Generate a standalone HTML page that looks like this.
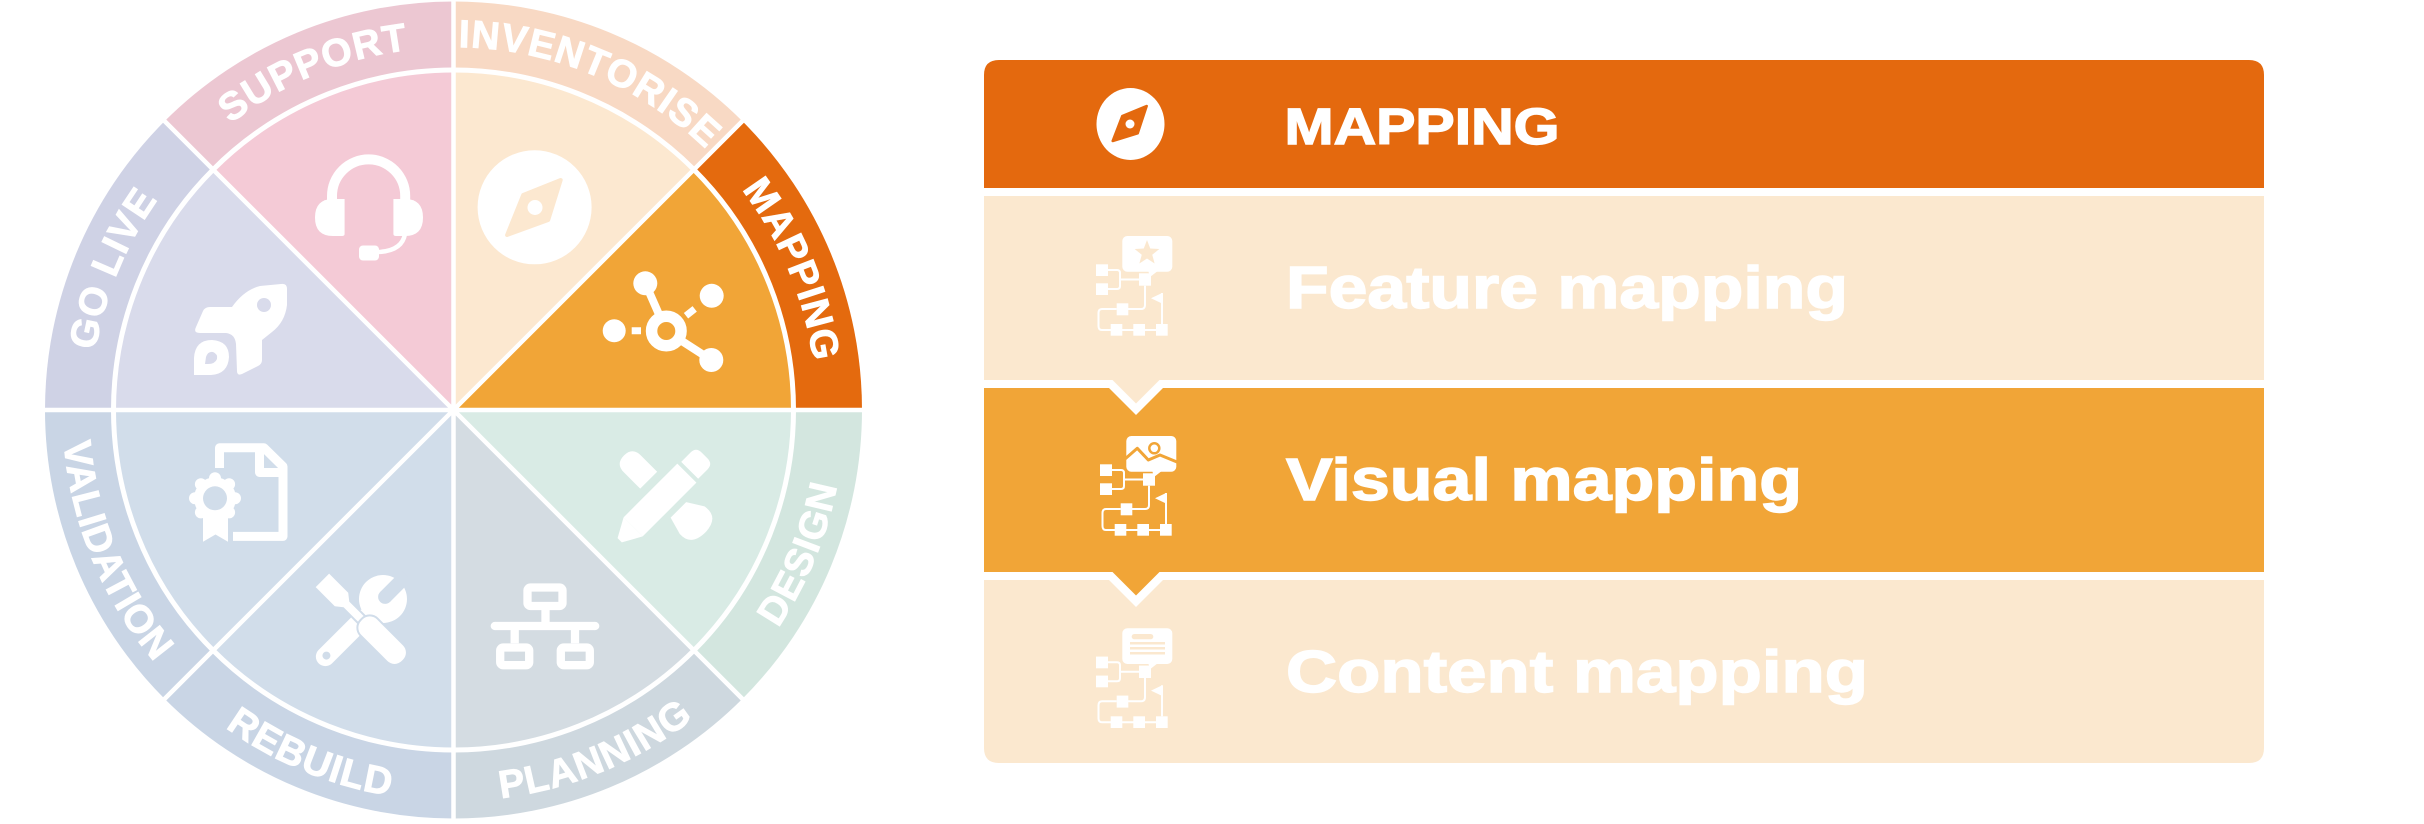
<!DOCTYPE html>
<html><head><meta charset="utf-8">
<style>
html,body{margin:0;padding:0;background:#fff;}
svg{display:block;}
text{font-family:"Liberation Sans",Arial,sans-serif;font-weight:bold;fill:#fff;}
</style></head><body>
<svg width="2424" height="824" viewBox="0 0 2424 824" xmlns="http://www.w3.org/2000/svg">
<rect width="2424" height="824" fill="#fff"/>
<defs>
<path id="tp" d="M90.5 410 A363 363 0 0 1 816.5 410"/>
<path id="bp" d="M62.5 410 A391 391 0 0 0 844.5 410"/>
</defs>

<!-- outer ring wedges -->
<path d="M453.5 410 L862 410 A408.5 408.5 0 0 0 742.35 121.15 Z" fill="#e46a0e"/>
<path d="M453.5 410 L742.35 121.15 A408.5 408.5 0 0 0 453.5 1.5 Z" fill="#f8d9c4"/>
<path d="M453.5 410 L453.5 1.5 A408.5 408.5 0 0 0 164.65 121.15 Z" fill="#ecc7d2"/>
<path d="M453.5 410 L164.65 121.15 A408.5 408.5 0 0 0 45 410 Z" fill="#cfd2e5"/>
<path d="M453.5 410 L45 410 A408.5 408.5 0 0 0 164.65 698.85 Z" fill="#c9d5e5"/>
<path d="M453.5 410 L164.65 698.85 A408.5 408.5 0 0 0 453.5 818.5 Z" fill="#c9d5e5"/>
<path d="M453.5 410 L453.5 818.5 A408.5 408.5 0 0 0 742.35 698.85 Z" fill="#ced8df"/>
<path d="M453.5 410 L742.35 698.85 A408.5 408.5 0 0 0 862 410 Z" fill="#d3e6df"/>

<!-- inner wedges -->
<path d="M453.5 410 L793.5 410 A340 340 0 0 0 693.92 169.58 Z" fill="#f1a537"/>
<path d="M453.5 410 L693.92 169.58 A340 340 0 0 0 453.5 70 Z" fill="#fce8d0"/>
<path d="M453.5 410 L453.5 70 A340 340 0 0 0 213.08 169.58 Z" fill="#f4cad6"/>
<path d="M453.5 410 L213.08 169.58 A340 340 0 0 0 113.5 410 Z" fill="#d9dbeb"/>
<path d="M453.5 410 L113.5 410 A340 340 0 0 0 213.08 650.42 Z" fill="#d1ddea"/>
<path d="M453.5 410 L213.08 650.42 A340 340 0 0 0 453.5 750 Z" fill="#d1ddea"/>
<path d="M453.5 410 L453.5 750 A340 340 0 0 0 693.92 650.42 Z" fill="#d4dce2"/>
<path d="M453.5 410 L693.92 650.42 A340 340 0 0 0 793.5 410 Z" fill="#d9ebe5"/>

<!-- white dividers -->
<g stroke="#fff" stroke-width="4.5" fill="none">
<path d="M40 410 H867 M453.5 0 V824 M160 116.5 L747 703.5 M747 116.5 L160 703.5"/>
<circle cx="453.5" cy="410" r="340" stroke-width="5"/>
</g>

<!-- labels -->
<g font-size="39" letter-spacing="1" stroke="#fff" stroke-width="0.9">
<text><textPath href="#tp" startOffset="12.5%" text-anchor="middle">GO LIVE</textPath></text>
<text><textPath href="#tp" startOffset="37.5%" text-anchor="middle">SUPPORT</textPath></text>
<text><textPath href="#tp" startOffset="62.5%" text-anchor="middle">INVENTORISE</textPath></text>
<text><textPath href="#tp" startOffset="87.5%" text-anchor="middle">MAPPING</textPath></text>
<text><textPath href="#bp" startOffset="12.5%" text-anchor="middle">VALIDATION</textPath></text>
<text><textPath href="#bp" startOffset="37.5%" text-anchor="middle">REBUILD</textPath></text>
<text><textPath href="#bp" startOffset="62.5%" text-anchor="middle">PLANNING</textPath></text>
<text><textPath href="#bp" startOffset="87.5%" text-anchor="middle">DESIGN</textPath></text>
</g>

<!-- Support: headset -->
<g fill="#fff">
<path d="M332 212 V196 A36.6 36.6 0 0 1 405.2 196 V212" fill="none" stroke="#fff" stroke-width="10"/>
<path d="M344.6 199 V234 Q344.6 236 342 236 H333 Q315 236 315 217.5 Q315 199 333 199 Z"/>
<path d="M393.4 199 V234 Q393.4 236 396 236 H405 Q423 236 423 217.5 Q423 199 405 199 Z"/>
<path d="M405 234 Q402 251 378 252" fill="none" stroke="#fff" stroke-width="4.5"/>
<rect x="359" y="245.5" width="20" height="15" rx="4"/>
</g>

<!-- Inventorise: compass -->
<circle cx="534.6" cy="207.3" r="57" fill="#fff"/>
<polygon points="560.7,180 523.2,195 507.1,235 548.2,220" fill="#fce8d0" stroke="#fce8d0" stroke-width="4" stroke-linejoin="round"/>
<circle cx="535" cy="207.5" r="7.5" fill="#fff"/>

<!-- Mapping: network -->
<g stroke="#fff" fill="none">
<path d="M645.3 283.3 L666.3 331 M666.3 331 L711.3 360" stroke-width="8"/>
<path d="M686 315.7 L694.7 308.9 M631.7 330.8 H641" stroke-width="7"/>
<circle cx="666.3" cy="331" r="14.75" stroke-width="11.5" fill="#f1a537"/>
</g>
<g fill="#fff">
<circle cx="645.3" cy="283.3" r="12"/>
<circle cx="711.7" cy="295.8" r="12"/>
<circle cx="614.2" cy="330.8" r="11.5"/>
<circle cx="711.3" cy="360" r="12"/>
</g>

<!-- Go live: rocket -->
<g fill="#fff">
<path d="M281 284 Q287 283 287 289 L287 305 Q285 322 272 332 L262 340 L262 360 Q262 364 258 366 L242 374 Q237 376 237 371 L236 344 Q235 334 226 333 L200 333 Q193 333 196 327 L203 311 Q205 307 210 307 L232 307 Q244 290 260 286 Z"/>
<path d="M194 375 L194 358 Q195 340 212 340 Q229 341 229 357 Q228 374 211 375 Z"/>
</g>
<circle cx="264" cy="305" r="7" fill="#d9dbeb"/>
<path d="M205 364 L206 357 Q208 351 213 352 Q218 354 217 359 Q215 364 208 364 Z" fill="#d9dbeb"/>

<!-- Validation: certificate -->
<g fill="none" stroke="#fff" stroke-width="9" stroke-linejoin="round">
<path d="M219.5 468 V447.8 H264 L283 466.5 V536.4 H233"/>
<path d="M259.5 447.8 V472.5 H283"/>
</g>
<g fill="#fff">
<circle cx="215" cy="498.3" r="21"/>
<circle cx="235" cy="498.3" r="6"/><circle cx="229.1" cy="512.4" r="6"/>
<circle cx="215" cy="518.3" r="6"/><circle cx="200.9" cy="512.4" r="6"/>
<circle cx="195" cy="498.3" r="6"/><circle cx="200.9" cy="484.2" r="6"/>
<circle cx="215" cy="478.3" r="6"/><circle cx="229.1" cy="484.2" r="6"/>
<polygon points="203,514 228,514 228,541.7 215.5,534.5 203,541.7"/>
</g>
<circle cx="215" cy="498.3" r="12" fill="#d1ddea"/>

<!-- Rebuild: tools -->
<g transform="translate(354,628) rotate(-45)">
<rect x="-50" y="-9.5" width="72" height="19" rx="9.5" fill="#fff"/>
<circle cx="-39" cy="0" r="4" fill="#d1ddea"/>
<circle cx="41" cy="0" r="24" fill="#fff"/>
<rect x="44" y="-7" width="30" height="14" fill="#d1ddea"/>
<circle cx="44" cy="0" r="7" fill="#d1ddea"/>
</g>
<g transform="translate(362,620) rotate(45)" fill="#fff" stroke="#d1ddea" stroke-width="4" paint-order="stroke">
<polygon points="-56,-9.5 -29,-9.5 -22,-4 2,-4 2,4 -22,4 -29,9.5 -56,9.5"/>
<rect x="0" y="-11" width="57" height="22" rx="10"/>
</g>

<!-- Planning: network -->
<g fill="none" stroke="#fff" stroke-width="8.3" stroke-linecap="round">
<rect x="527.5" y="587.5" width="35" height="18.5" rx="3"/>
<rect x="500.2" y="647.5" width="29" height="17.7" rx="3"/>
<rect x="560.8" y="647.5" width="29" height="17.7" rx="3"/>
<path d="M545.5 610 V626 M494.8 626 H595.2 M514.7 626 V643.3 M575 626 V643.3" stroke-linecap="butt"/>
<path d="M494.8 626 H495 M595 626 H595.2"/>
</g>

<!-- Design: pencil & brush -->
<g transform="translate(660,500) rotate(-45)" fill="#fff">
<rect x="-38" y="-13.5" width="76" height="27"/>
<polygon points="-38,-13.5 -38,13.5 -57,3 -57,-3"/>
<path d="M42 -12 H55 Q63 -12 63 -4 V4 Q63 12 55 12 H42 Z"/>
<path d="M-6 -22 V-45 Q-6 -57 6 -57 Q18 -57 18 -45 V-22 Z"/>
<path d="M-5 20 H17 L27 36 Q30 54 10 55 Q-11 55 -10 38 Z"/>
</g>

<!-- ============ RIGHT PANEL ============ -->
<path d="M984 188 V75 Q984 60 999 60 H2249 Q2264 60 2264 75 V188 Z" fill="#e4690e"/>
<rect x="984" y="196" width="1280" height="184" fill="#fbe8cf"/>
<rect x="984" y="388" width="1280" height="184" fill="#f1a537"/>
<polygon points="1108,387 1164,387 1136,415" fill="#fff"/>
<polygon points="1111.5,379 1160.5,379 1136,403.5" fill="#fbe8cf"/>
<path d="M984 580 H2264 V748 Q2264 763 2249 763 H999 Q984 763 984 748 Z" fill="#fbe8cf"/>
<polygon points="1108,579 1164,579 1136,607" fill="#fff"/>
<polygon points="1111.5,571 1160.5,571 1136,595.5" fill="#f1a537"/>

<!-- header compass -->
<ellipse cx="1130.5" cy="124" rx="34" ry="36" fill="#fff"/>
<polygon points="1146.7,106 1122.3,116 1112.7,141 1137.7,133.3" fill="#e4690e" stroke="#e4690e" stroke-width="2.5" stroke-linejoin="round"/>
<circle cx="1130" cy="124" r="4.5" fill="#fff"/>

<!-- Feature icon -->
<g>
<g fill="#fff">
<rect x="1122.3" y="236" width="50" height="35.7" rx="5"/>
<polygon points="1148,270 1159,270 1150,277"/>
<rect x="1139" y="273.3" width="12" height="12.4"/>
<rect x="1096" y="264.3" width="12" height="11.7"/>
<rect x="1096" y="283.3" width="12" height="11.7"/>
<rect x="1116.7" y="303.3" width="11.6" height="12"/>
<rect x="1110.7" y="324" width="11.6" height="11.7"/>
<rect x="1133.3" y="324" width="11.7" height="11.7"/>
<rect x="1156" y="324" width="11.7" height="11.7"/>
<polygon points="1161.5,293.3 1151,298.3 1161.5,303.3"/>
</g>
<path d="M1108 270 H1117 Q1120 270 1120 273 V286 Q1120 289 1117 289 H1108 M1120 279.5 H1139 M1145 285.7 V305 Q1145 309 1141 309 H1128 M1116.7 309 H1102 Q1098.5 309 1098.5 313 V326 Q1098.5 330 1102 330 H1162 M1162 293 V324" fill="none" stroke="#fff" stroke-width="2"/>
<polygon points="1147,240 1150.23,248.55 1159.36,248.98 1152.23,254.7 1154.64,263.52 1147,258.5 1139.36,263.52 1141.77,254.7 1134.64,248.98 1143.77,248.55" fill="#fbe8cf"/>
</g>

<!-- Visual icon -->
<g transform="translate(4,200)">
<g fill="#fff">
<rect x="1122.3" y="236" width="50" height="35.7" rx="5"/>
<polygon points="1148,270 1159,270 1150,277"/>
<rect x="1139" y="273.3" width="12" height="12.4"/>
<rect x="1096" y="264.3" width="12" height="11.7"/>
<rect x="1096" y="283.3" width="12" height="11.7"/>
<rect x="1116.7" y="303.3" width="11.6" height="12"/>
<rect x="1110.7" y="324" width="11.6" height="11.7"/>
<rect x="1133.3" y="324" width="11.7" height="11.7"/>
<rect x="1156" y="324" width="11.7" height="11.7"/>
<polygon points="1161.5,293.3 1151,298.3 1161.5,303.3"/>
</g>
<path d="M1108 270 H1117 Q1120 270 1120 273 V286 Q1120 289 1117 289 H1108 M1120 279.5 H1139 M1145 285.7 V305 Q1145 309 1141 309 H1128 M1116.7 309 H1102 Q1098.5 309 1098.5 313 V326 Q1098.5 330 1102 330 H1162 M1162 293 V324" fill="none" stroke="#fff" stroke-width="2"/>
<circle cx="1150.3" cy="248.3" r="5" fill="#fff" stroke="#f1a537" stroke-width="2.5"/>
<polyline points="1121,259 1133.3,248.3 1144.3,260 1156,255 1173,262" fill="none" stroke="#f1a537" stroke-width="3" stroke-linejoin="round"/>
</g>

<!-- Content icon -->
<g transform="translate(0,392.3)">
<g fill="#fff">
<rect x="1122.3" y="236" width="50" height="35.7" rx="5"/>
<polygon points="1148,270 1159,270 1150,277"/>
<rect x="1139" y="273.3" width="12" height="12.4"/>
<rect x="1096" y="264.3" width="12" height="11.7"/>
<rect x="1096" y="283.3" width="12" height="11.7"/>
<rect x="1116.7" y="303.3" width="11.6" height="12"/>
<rect x="1110.7" y="324" width="11.6" height="11.7"/>
<rect x="1133.3" y="324" width="11.7" height="11.7"/>
<rect x="1156" y="324" width="11.7" height="11.7"/>
<polygon points="1161.5,293.3 1151,298.3 1161.5,303.3"/>
</g>
<path d="M1108 270 H1117 Q1120 270 1120 273 V286 Q1120 289 1117 289 H1108 M1120 279.5 H1139 M1145 285.7 V305 Q1145 309 1141 309 H1128 M1116.7 309 H1102 Q1098.5 309 1098.5 313 V326 Q1098.5 330 1102 330 H1162 M1162 293 V324" fill="none" stroke="#fff" stroke-width="2"/>
<rect x="1131.7" y="241.7" width="21.6" height="5.3" rx="2.6" fill="#fbe8cf"/>
<path d="M1130 251 H1165 M1130 256 H1165 M1130 261 H1165" stroke="#fbe8cf" stroke-width="2.5"/>
</g>

<!-- panel texts -->
<g stroke="#fff" stroke-width="1.4">
<text x="1284.5" y="144" font-size="51" textLength="275" lengthAdjust="spacingAndGlyphs">MAPPING</text>
<text x="1286" y="308" font-size="59" textLength="562" lengthAdjust="spacingAndGlyphs">Feature mapping</text>
<text x="1286" y="500" font-size="59" textLength="516" lengthAdjust="spacingAndGlyphs">Visual mapping</text>
<text x="1286" y="692" font-size="59" textLength="582" lengthAdjust="spacingAndGlyphs">Content mapping</text>
</g>
</svg>
</body></html>
